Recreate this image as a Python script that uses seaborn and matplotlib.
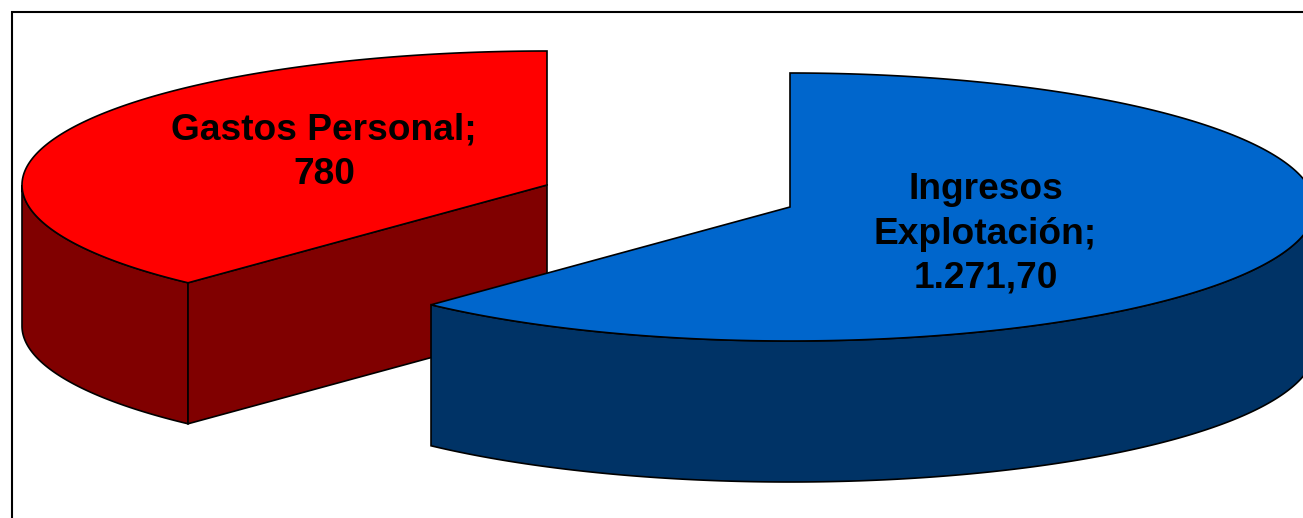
#exploded 3d pie, two slices, angles come from the values

import numpy as np
import seaborn as sns
from matplotlib import pyplot as plt
from matplotlib.patches import Rectangle

labels = ["Gastos\u00a0Personal;\n780", "Ingresos\nExplotación;\n1.271,70"]
values = [780, 1271.7]
top_colors = ["#ff0000", "#0066cc"]
side_colors = ["#800000", "#003366"]

sns.set_theme(style="white")
plt.rcParams['font.family'] = ['Liberation Sans', 'DejaVu Sans']

rx, ry, depth = 525, 134, 141
red_c = (547, 185)
blue_c = (790, 207)

split = 360 * values[1] / sum(values)   # blue runs clockwise from 12 o'clock up to here


def rim(c, a0, a1, dz=0):
    t = np.radians(np.linspace(a0, a1, 300))
    return c[0] + rx * np.sin(t), c[1] - ry * np.cos(t) + dz


def wall(c, a0, a1):
    x, y = rim(c, a0, a1)
    xb, yb = rim(c, a0, a1, depth)
    return np.r_[x, xb[::-1]], np.r_[y, yb[::-1]]


fig, ax = plt.subplots(figsize=(13.03, 5.18), dpi=100)
fig.subplots_adjust(0, 0, 1, 1)
ax.set_xlim(0, 1303)
ax.set_ylim(518, 0)
ax.axis("off")

ax.add_patch(Rectangle((11.5, 11.5), 1400, 600, fc="white", ec="black", lw=1.5))

kw = dict(edgecolor="black", linewidth=1.2, joinstyle="miter")

# red slice, split..360 degrees
x, y = wall(red_c, split, 270)
ax.fill(x, y, facecolor=side_colors[0], **kw)
xe, ye = rim(red_c, split, split)
ax.fill([red_c[0], xe[0], xe[0], red_c[0]],
        [red_c[1], ye[0], ye[0] + depth, red_c[1] + depth], facecolor=side_colors[0], **kw)
x, y = rim(red_c, split, 360)
ax.fill(np.r_[red_c[0], x], np.r_[red_c[1], y], facecolor=top_colors[0], **kw)

# blue slice, 0..split degrees
x, y = wall(blue_c, 90, split)
ax.fill(x, y, facecolor=side_colors[1], **kw)
x, y = rim(blue_c, 0, split)
ax.fill(np.r_[blue_c[0], x], np.r_[blue_c[1], y], facecolor=top_colors[1], **kw)

ax.text(324, 152, labels[0], ha="center", va="center", fontsize=26.7, fontweight="bold",
        color="black", linespacing=1.34)
ax.text(985.5, 234, labels[1], ha="center", va="center", fontsize=26.7, fontweight="bold",
        color="black", linespacing=1.34)

plt.savefig("out.png", dpi=100)
